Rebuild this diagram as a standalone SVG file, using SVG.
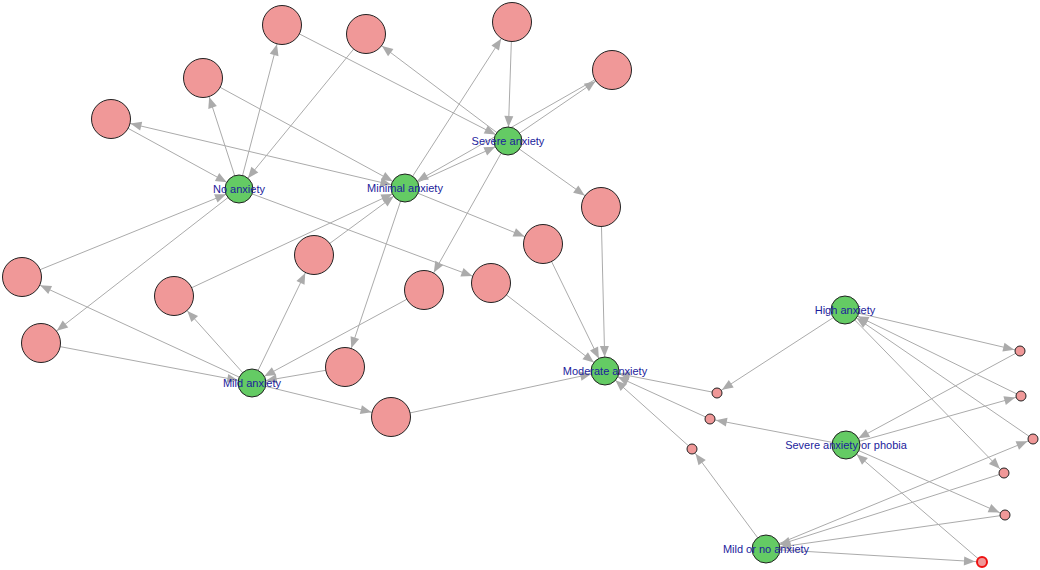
<svg xmlns="http://www.w3.org/2000/svg" width="1040" height="570" viewBox="0 0 1040 570">
<style>
.e{stroke:#ababab;stroke-width:1;fill:none}
.g{fill:#64cb64;stroke:#222;stroke-width:1}
.p{fill:#f09898;stroke:#222;stroke-width:1}
.s{fill:#f09898;stroke:#222;stroke-width:1}
.r{fill:#f09898;stroke:#ee1111;stroke-width:2}
.t{font-family:"Liberation Sans",Arial,sans-serif;font-size:11px;fill:#1c1c9c;text-anchor:middle}
</style>
<defs>
<marker id="ag" markerUnits="userSpaceOnUse" markerWidth="12" markerHeight="10" refX="25" refY="4.5" orient="auto" overflow="visible"><path d="M0,0 L11,4.5 L0,9 Z" fill="#ababab"/></marker>
<marker id="ap" markerUnits="userSpaceOnUse" markerWidth="12" markerHeight="10" refX="31" refY="4.5" orient="auto" overflow="visible"><path d="M0,0 L11,4.5 L0,9 Z" fill="#ababab"/></marker>
<marker id="aps" markerUnits="userSpaceOnUse" markerWidth="12" markerHeight="10" refX="31" refY="4.5" orient="auto-start-reverse" overflow="visible"><path d="M0,0 L11,4.5 L0,9 Z" fill="#ababab"/></marker>
<marker id="as" markerUnits="userSpaceOnUse" markerWidth="12" markerHeight="10" refX="17" refY="4.5" orient="auto" overflow="visible"><path d="M0,0 L11,4.5 L0,9 Z" fill="#ababab"/></marker>
<marker id="ar" markerUnits="userSpaceOnUse" markerWidth="12" markerHeight="10" refX="18" refY="4.5" orient="auto" overflow="visible"><path d="M0,0 L11,4.5 L0,9 Z" fill="#ababab"/></marker>
</defs>
<rect width="1040" height="570" fill="#ffffff"/>
<g id="edges">
<line class="e" x1="239" y1="189" x2="282" y2="25" marker-end="url(#ap)"/>
<line class="e" x1="239" y1="189" x2="203" y2="78" marker-end="url(#ap)"/>
<line class="e" x1="111" y1="119" x2="239" y2="189" marker-end="url(#ag)"/>
<line class="e" x1="366" y1="34" x2="239" y2="189" marker-end="url(#ag)"/>
<line class="e" x1="22" y1="277" x2="239" y2="189" marker-end="url(#ag)"/>
<line class="e" x1="239" y1="189" x2="491" y2="283" marker-end="url(#ap)"/>
<line class="e" x1="239" y1="189" x2="41" y2="343" marker-end="url(#ap)"/>
<line class="e" x1="282" y1="25" x2="508" y2="141" marker-end="url(#ag)"/>
<line class="e" x1="508" y1="141" x2="366" y2="34" marker-end="url(#ap)"/>
<line class="e" x1="512" y1="22" x2="508" y2="141" marker-end="url(#ag)"/>
<line class="e" x1="405" y1="188" x2="512" y2="22" marker-end="url(#ap)"/>
<line class="e" x1="508" y1="141" x2="612" y2="70" marker-end="url(#ap)"/>
<line class="e" x1="612" y1="70" x2="405" y2="188" marker-end="url(#ag)"/>
<line class="e" x1="405" y1="188" x2="508" y2="141" marker-end="url(#ag)"/>
<line class="e" x1="203" y1="78" x2="405" y2="188" marker-end="url(#ag)"/>
<line class="e" x1="111" y1="119" x2="405" y2="188" marker-start="url(#aps)" marker-end="url(#ag)"/>
<line class="e" x1="508" y1="141" x2="601" y2="207" marker-end="url(#ap)"/>
<line class="e" x1="601" y1="207" x2="605" y2="371" marker-end="url(#ag)"/>
<line class="e" x1="405" y1="188" x2="543" y2="244" marker-end="url(#ap)"/>
<line class="e" x1="543" y1="244" x2="605" y2="371" marker-end="url(#ag)"/>
<line class="e" x1="405" y1="188" x2="345" y2="367" marker-end="url(#ap)"/>
<line class="e" x1="314" y1="255" x2="405" y2="188" marker-end="url(#ag)"/>
<line class="e" x1="174" y1="296" x2="405" y2="188" marker-end="url(#ag)"/>
<line class="e" x1="508" y1="141" x2="424" y2="290" marker-end="url(#ap)"/>
<line class="e" x1="424" y1="290" x2="252" y2="383" marker-end="url(#ag)"/>
<line class="e" x1="491" y1="283" x2="605" y2="371" marker-end="url(#ag)"/>
<line class="e" x1="252" y1="383" x2="22" y2="277" marker-end="url(#ap)"/>
<line class="e" x1="252" y1="383" x2="314" y2="255" marker-end="url(#ap)"/>
<line class="e" x1="252" y1="383" x2="174" y2="296" marker-end="url(#ap)"/>
<line class="e" x1="41" y1="343" x2="252" y2="383" marker-end="url(#ag)"/>
<line class="e" x1="345" y1="367" x2="252" y2="383" marker-end="url(#ag)"/>
<line class="e" x1="252" y1="383" x2="391" y2="417" marker-end="url(#ap)"/>
<line class="e" x1="391" y1="417" x2="605" y2="371" marker-end="url(#ag)"/>
<line class="e" x1="845" y1="310" x2="717" y2="393" marker-end="url(#as)"/>
<line class="e" x1="717" y1="393" x2="605" y2="371" marker-end="url(#ag)"/>
<line class="e" x1="846" y1="445" x2="710" y2="419" marker-end="url(#as)"/>
<line class="e" x1="710" y1="419" x2="605" y2="371" marker-end="url(#ag)"/>
<line class="e" x1="766" y1="549" x2="692" y2="449" marker-end="url(#as)"/>
<line class="e" x1="692" y1="449" x2="605" y2="371" marker-end="url(#ag)"/>
<line class="e" x1="845" y1="310" x2="1020" y2="351" marker-end="url(#as)"/>
<line class="e" x1="1021" y1="396" x2="845" y2="310" marker-end="url(#ag)"/>
<line class="e" x1="1033" y1="439" x2="845" y2="310" marker-end="url(#ag)"/>
<line class="e" x1="845" y1="310" x2="1004" y2="473" marker-end="url(#as)"/>
<line class="e" x1="1020" y1="351" x2="846" y2="445" marker-end="url(#ag)"/>
<line class="e" x1="846" y1="445" x2="1021" y2="396" marker-end="url(#as)"/>
<line class="e" x1="846" y1="445" x2="1005" y2="515" marker-end="url(#as)"/>
<line class="e" x1="982" y1="562" x2="846" y2="445" marker-end="url(#ag)"/>
<line class="e" x1="766" y1="549" x2="1033" y2="439" marker-end="url(#as)"/>
<line class="e" x1="1004" y1="473" x2="766" y2="549" marker-end="url(#ag)"/>
<line class="e" x1="1005" y1="515" x2="766" y2="549" marker-end="url(#ag)"/>
<line class="e" x1="766" y1="549" x2="982" y2="562" marker-end="url(#ar)"/>
</g>
<g id="p1"><circle class="p" cx="282" cy="25" r="19.5"/></g>
<g id="p2"><circle class="p" cx="366" cy="34" r="19.5"/></g>
<g id="p3"><circle class="p" cx="512" cy="22" r="19.5"/></g>
<g id="p4"><circle class="p" cx="612" cy="70" r="19.5"/></g>
<g id="p5"><circle class="p" cx="203" cy="78" r="19.5"/></g>
<g id="p6"><circle class="p" cx="111" cy="119" r="19.5"/></g>
<g id="p7"><circle class="p" cx="601" cy="207" r="19.5"/></g>
<g id="p8"><circle class="p" cx="543" cy="244" r="19.5"/></g>
<g id="p9"><circle class="p" cx="22" cy="277" r="19.5"/></g>
<g id="p10"><circle class="p" cx="314" cy="255" r="19.5"/></g>
<g id="p11"><circle class="p" cx="491" cy="283" r="19.5"/></g>
<g id="p12"><circle class="p" cx="424" cy="290" r="19.5"/></g>
<g id="p13"><circle class="p" cx="174" cy="296" r="19.5"/></g>
<g id="p14"><circle class="p" cx="41" cy="343" r="19.5"/></g>
<g id="p15"><circle class="p" cx="345" cy="367" r="19.5"/></g>
<g id="p16"><circle class="p" cx="391" cy="417" r="19.5"/></g>
<g id="s1"><circle class="s" cx="1020" cy="351" r="5"/></g>
<g id="s2"><circle class="s" cx="1021" cy="396" r="5"/></g>
<g id="s3"><circle class="s" cx="1033" cy="439" r="5"/></g>
<g id="s4"><circle class="s" cx="1004" cy="473" r="5"/></g>
<g id="s5"><circle class="s" cx="1005" cy="515" r="5"/></g>
<g id="s6"><circle class="r" cx="982" cy="562" r="5"/></g>
<g id="s7"><circle class="s" cx="717" cy="393" r="5"/></g>
<g id="s8"><circle class="s" cx="710" cy="419" r="5"/></g>
<g id="s9"><circle class="s" cx="692" cy="449" r="5"/></g>
<g id="no-anxiety"><circle class="g" cx="239" cy="189" r="14"/><text class="t" x="239" y="193">No anxiety</text></g>
<g id="minimal-anxiety"><circle class="g" cx="405" cy="188" r="14"/><text class="t" x="405" y="192">Minimal anxiety</text></g>
<g id="severe-anxiety"><circle class="g" cx="508" cy="141" r="14"/><text class="t" x="508" y="145">Severe anxiety</text></g>
<g id="mild-anxiety"><circle class="g" cx="252" cy="383" r="14"/><text class="t" x="252" y="387">Mild anxiety</text></g>
<g id="moderate-anxiety"><circle class="g" cx="605" cy="371" r="14"/><text class="t" x="605" y="375">Moderate anxiety</text></g>
<g id="high-anxiety"><circle class="g" cx="845" cy="310" r="14"/><text class="t" x="845" y="314">High anxiety</text></g>
<g id="severe-anxiety-or-phobia"><circle class="g" cx="846" cy="445" r="14"/><text class="t" x="846" y="449">Severe anxiety or phobia</text></g>
<g id="mild-or-no-anxiety"><circle class="g" cx="766" cy="549" r="14"/><text class="t" x="766" y="553">Mild or no anxiety</text></g>
</svg>
